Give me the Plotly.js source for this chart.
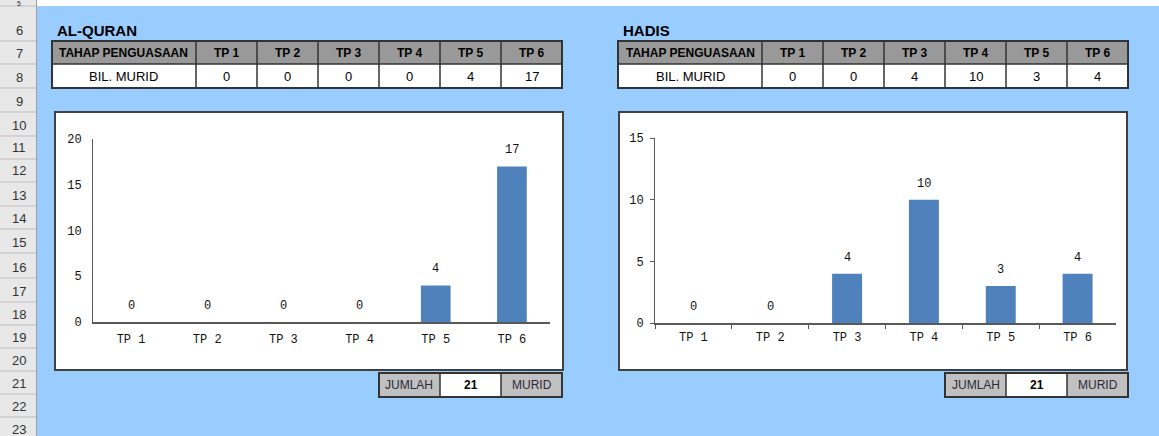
<!DOCTYPE html>
<html><head><meta charset="utf-8">
<script src="https://cdn.plot.ly/plotly-3.0.1.min.js"></script>
<style>html,body{margin:0;padding:0;background:#99CCFF;overflow:hidden;} #chart{width:1159px;height:436px;}</style>
</head><body><div id="chart"></div>
<script>
// ---------- data ----------
const categories = ['TP 1', 'TP 2', 'TP 3', 'TP 4', 'TP 5', 'TP 6'];
const alQuranValues = [0, 0, 0, 0, 4, 17];
const hadisValues = [0, 0, 4, 10, 3, 4];
const sectionTitles = ['AL-QURAN', 'HADIS'];
const tableHeaderLabel = 'TAHAP PENGUASAAN';
const tableRowLabel = 'BIL. MURID';
const totalLabel = 'JUMLAH';
const totalUnit = 'MURID';
const alQuranTotal = 21;
const hadisTotal = 21;
const rowNumbers = [5, 6, 7, 8, 9, 10, 11, 12, 13, 14, 15, 16, 17, 18, 19, 20, 21, 22, 23];

// ---------- layout helpers ----------
const W = 1159, H = 436;
const fx = x => x / W;
const fy = y => 1 - y / H;
const SANS = "'Liberation Sans', Arial, sans-serif";
const MONO = "'Liberation Mono', 'Courier New', monospace";

const shapes = [];
const annotations = [];
function rect(x0, y0, x1, y1, fill, lineColor, lineWidth) {
  shapes.push({type: 'rect', xref: 'paper', yref: 'paper', layer: 'below',
    x0: fx(x0), x1: fx(x1), y0: fy(y1), y1: fy(y0), fillcolor: fill,
    line: {color: lineColor || 'rgba(0,0,0,0)', width: lineColor ? (lineWidth || 1) : 0}});
}
function seg(x0, y0, x1, y1, color, width) {
  shapes.push({type: 'line', xref: 'paper', yref: 'paper', layer: 'below',
    x0: fx(x0), x1: fx(x1), y0: fy(y0), y1: fy(y1), line: {color: color, width: width}});
}
function label(x, y, str, font, xanchor) {
  annotations.push({xref: 'paper', yref: 'paper', x: fx(x), y: fy(y), text: str,
    showarrow: false, xanchor: xanchor || 'center', yanchor: 'middle', font: font, borderpad: 0});
}

// sheet chrome
rect(36, 0, W, 6, '#FFFFFF');
rect(0, -5, 36, H + 5, '#E8E8E8');
const rowBottoms = [6, 41, 64, 88, 112, 136, 159, 182, 206, 229, 253, 278, 302, 325, 348, 371, 394, 417, 440];
rowBottoms.forEach((b, i) => {
  seg(0, b, 36, b, '#BDBDBD', 1);
  if (i === 0) {
    label(19, 3.5, String(rowNumbers[i]), {family: SANS, size: 7, color: '#333333'});
  } else {
    label(19, b - 11, String(rowNumbers[i]), {family: SANS, size: 13, color: '#333333'});
  }
});
seg(36.5, 0, 36.5, H, '#9E9E9E', 1);

// panels
const panels = [
  {title: sectionTitles[0], values: alQuranValues, total: alQuranTotal, tableX: 52,
   box: [55, 112, 563, 370], plot: [93, 139, 550, 322], ymax: 20, ticks: false, ax: '', jx: 379},
  {title: sectionTitles[1], values: hadisValues, total: hadisTotal, tableX: 618,
   box: [619, 112, 1127, 370], plot: [655, 138, 1116, 323], ymax: 15, ticks: true, ax: '2', jx: 945}
];

const traces = [];
const layout = {
  width: W, height: H, margin: {l: 0, r: 0, t: 0, b: 0},
  paper_bgcolor: '#99CCFF', plot_bgcolor: 'rgba(0,0,0,0)',
  showlegend: false, bargap: 0.61, shapes: shapes, annotations: annotations
};

panels.forEach((p) => {
  // title
  label(p.tableX + 4, 30, '<b>' + p.title + '</b>', {family: SANS, size: 15, color: '#000000'}, 'left');
  // table
  const edges = [p.tableX, p.tableX + 144];
  for (let i = 1; i <= categories.length; i++) edges.push(p.tableX + 144 + 61 * i);
  const right = edges[edges.length - 1];
  rect(p.tableX, 41, right, 64, '#999999');
  rect(p.tableX, 64, right, 88, '#FFFFFF');
  edges.forEach(e => seg(e, 41, e, 88, '#333333', 1.5));
  seg(p.tableX, 64, right, 64, '#333333', 1.5);
  rect(p.tableX, 41, right, 88, 'rgba(0,0,0,0)', '#333333', 2);
  label((edges[0] + edges[1]) / 2, 52.5, '<b>' + tableHeaderLabel + '</b>', {family: SANS, size: 12, color: '#000'});
  label((edges[0] + edges[1]) / 2, 76, tableRowLabel, {family: SANS, size: 13, color: '#000'});
  categories.forEach((c, i) => {
    const cx = (edges[i + 1] + edges[i + 2]) / 2;
    label(cx, 52.5, '<b>' + c + '</b>', {family: SANS, size: 12, color: '#000'});
    label(cx, 76, String(p.values[i]), {family: SANS, size: 13, color: '#000'});
  });
  // chart box
  const [bx0, by0, bx1, by1] = p.box;
  rect(bx0, by0, bx1, by1, '#FFFFFF', '#404040', 2);
  // jumlah row
  const j = p.jx;
  rect(j, 373, j + 61, 397, '#C0C0C0');
  rect(j + 61, 373, j + 122, 397, '#FFFFFF');
  rect(j + 122, 373, j + 183, 397, '#C0C0C0');
  [j, j + 61, j + 122, j + 183].forEach(e => seg(e, 373, e, 397, '#333333', 1.5));
  rect(j, 373, j + 183, 397, 'rgba(0,0,0,0)', '#333333', 2);
  label(j + 30.5, 385, totalLabel, {family: SANS, size: 12, color: '#2B2B3B'});
  label(j + 91.5, 385, '<b>' + p.total + '</b>', {family: SANS, size: 12, color: '#000'});
  label(j + 152.5, 385, totalUnit, {family: SANS, size: 12, color: '#2B2B3B'});

  // axes
  const [px0, py0, px1, py1] = p.plot;
  const xa = 'x' + p.ax, ya = 'y' + p.ax;
  layout['xaxis' + p.ax] = {
    domain: [fx(px0), fx(px1)], anchor: ya, type: 'category',
    showline: true, linecolor: '#595959', linewidth: 2,
    ticks: p.ticks ? 'outside' : '', tickson: 'boundaries', ticklen: 4, tickcolor: '#595959', tickwidth: 1,
    tickfont: {family: MONO, size: 12, color: '#111'}, ticklabelstandoff: p.ticks ? 2 : 5,
    showgrid: false, zeroline: false, fixedrange: true
  };
  layout['yaxis' + p.ax] = {
    domain: [fy(py1), fy(py0)], anchor: xa, range: [0, p.ymax], tick0: 0, dtick: 5,
    showline: true, linecolor: '#595959', linewidth: 1,
    ticks: p.ticks ? 'outside' : '', ticklen: 4, tickcolor: '#595959', tickwidth: 1,
    tickfont: {family: MONO, size: 12, color: '#111'}, ticklabelstandoff: p.ticks ? 4 : 8,
    showgrid: false, zeroline: false, fixedrange: true
  };
  traces.push({
    type: 'bar', x: categories, y: p.values, xaxis: xa, yaxis: ya,
    marker: {color: '#4F81BD', line: {width: 0}},
    hoverinfo: 'x+y'
  });
  categories.forEach((c, i) => {
    annotations.push({xref: xa, yref: ya, x: c, y: p.values[i], text: String(p.values[i]),
      showarrow: false, yanchor: 'bottom', yshift: 7, font: {family: MONO, size: 12, color: '#111'}});
  });
});

Plotly.newPlot('chart', traces, layout, {staticPlot: true, displayModeBar: false});
</script>
</body></html>
